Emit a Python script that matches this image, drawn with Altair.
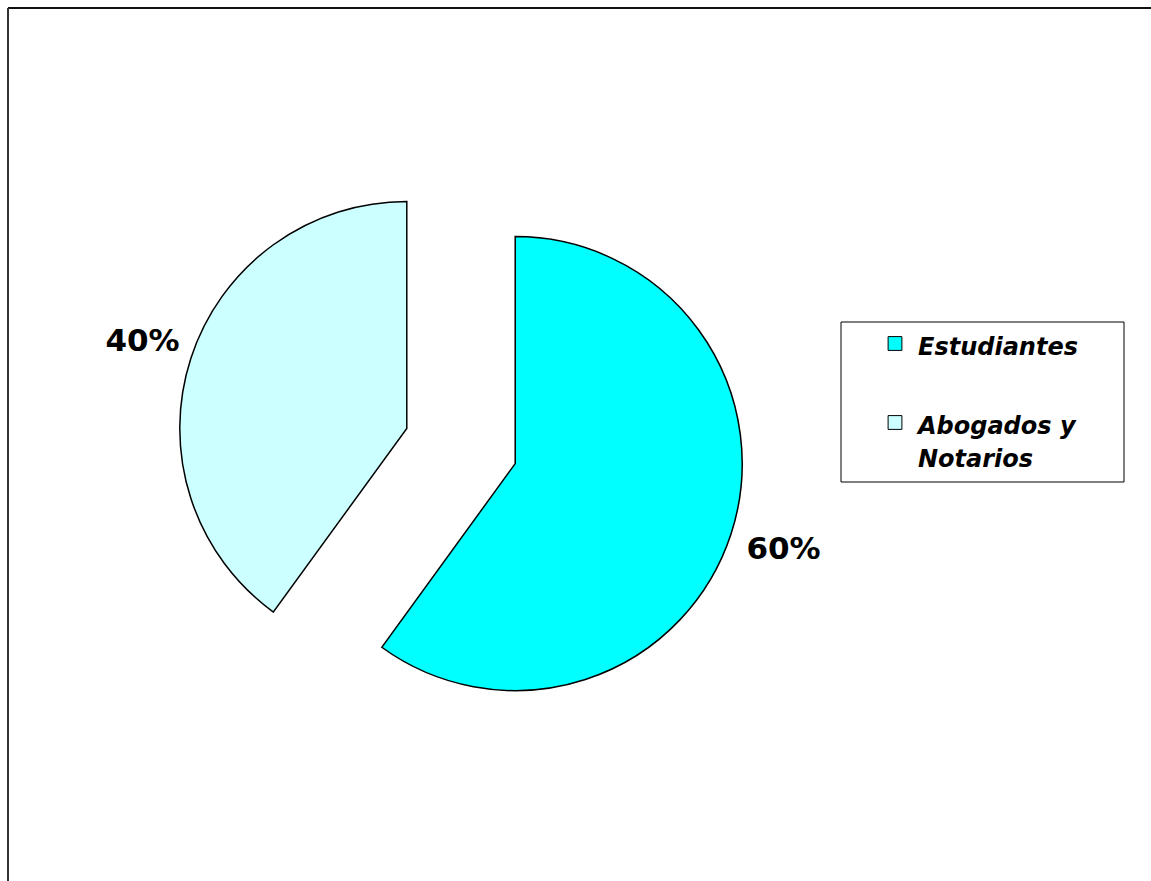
import math
import altair as alt
import pandas as pd

# ---- data ----
categories = ["Estudiantes", "Abogados y Notarios"]
values = [60, 40]
legend_labels = ["Estudiantes", "Abogados y\nNotarios"]
colors = ["#00FFFF", "#CCFFFF"]

df = pd.DataFrame({
    "category": categories,
    "value": values,
    "order": list(range(len(categories))),
    "legend_label": legend_labels,
})

# ---- style ----
W, H = 1151, 881
CX, CY = 461, 446          # pie centre before explosion
R = 227                    # pie radius
EXPLODE = 57               # explosion distance
LABEL_R = 280
FONT = "DejaVu Sans"

theta_scale = alt.Scale(domain=[0, 1])
color_scale = alt.Scale(domain=categories, range=colors)

base = (
    alt.Chart(df)
    .transform_joinaggregate(total="sum(value)")
    .transform_window(cum="sum(value)", sort=[alt.SortField("order")], frame=[None, 0])
    .transform_calculate(
        end="datum.cum / datum.total",
        start="(datum.cum - datum.value) / datum.total",
        mid="(datum.cum - datum.value / 2) / datum.total",
        pct="round(100 * datum.value / datum.total) + '%'",
    )
)

layers = []

# frame lines (top and left)
frame_src = alt.Chart(pd.DataFrame({"k": [0]}))
layers.append(frame_src.mark_rule(color="#111111", strokeWidth=2).encode(
    x=alt.value(8), x2=alt.value(W), y=alt.value(8)))
layers.append(frame_src.mark_rule(color="#333333", strokeWidth=2).encode(
    x=alt.value(8), y=alt.value(8), y2=alt.value(H)))

total = sum(values)
cum = 0
for cat, v in zip(categories, values):
    a = 2 * math.pi * (cum + v / 2) / total
    cum += v
    dx = EXPLODE * math.sin(a)
    dy = -EXPLODE * math.cos(a)
    sl = base.transform_filter(alt.datum.category == cat)
    layers.append(
        sl.mark_arc(x=CX, y=CY, xOffset=dx, yOffset=dy, radius=R,
                    stroke="black", strokeWidth=1.5).encode(
            theta=alt.Theta("start:Q", scale=theta_scale),
            theta2="end:Q",
            color=alt.Color("category:N", scale=color_scale, legend=None),
        )
    )
    layers.append(
        sl.mark_text(x=CX + 2, y=CY, xOffset=dx, yOffset=dy, radius=LABEL_R,
                     font=FONT, fontSize=31, fontWeight="bold", color="black",
                     align="center", baseline="middle").encode(
            theta=alt.Theta("mid:Q", scale=theta_scale),
            text="pct:N",
        )
    )

# legend box
layers.append(frame_src.mark_rect(fill="white", stroke="black", strokeWidth=1).encode(
    x=alt.value(841), x2=alt.value(1124), y=alt.value(322), y2=alt.value(482)))

legend_y = alt.Y("category:N", scale=alt.Scale(domain=categories, range=[343.5, 422.5], padding=0), axis=None)

layers.append(
    base.mark_square(size=190, stroke="black", strokeWidth=1, opacity=1).encode(
        x=alt.value(895),
        y=legend_y,
        color=alt.Color("category:N", scale=color_scale, legend=None),
    )
)
layers.append(
    base.mark_text(align="left", baseline="top", dy=-8, font=FONT, fontSize=24,
                   fontWeight="bold", fontStyle="italic", lineBreak="\n",
                   lineHeight=33.5, color="black").encode(
        x=alt.value(918),
        y=legend_y,
        text="legend_label:N",
    )
)

chart = alt.layer(*layers).properties(
    width=W, height=H, padding=0, autosize=alt.AutoSizeParams(type="none"),
    background="white",
).configure_view(stroke=None)

chart.save("out.html", embed_options={"renderer": "svg", "actions": False})
